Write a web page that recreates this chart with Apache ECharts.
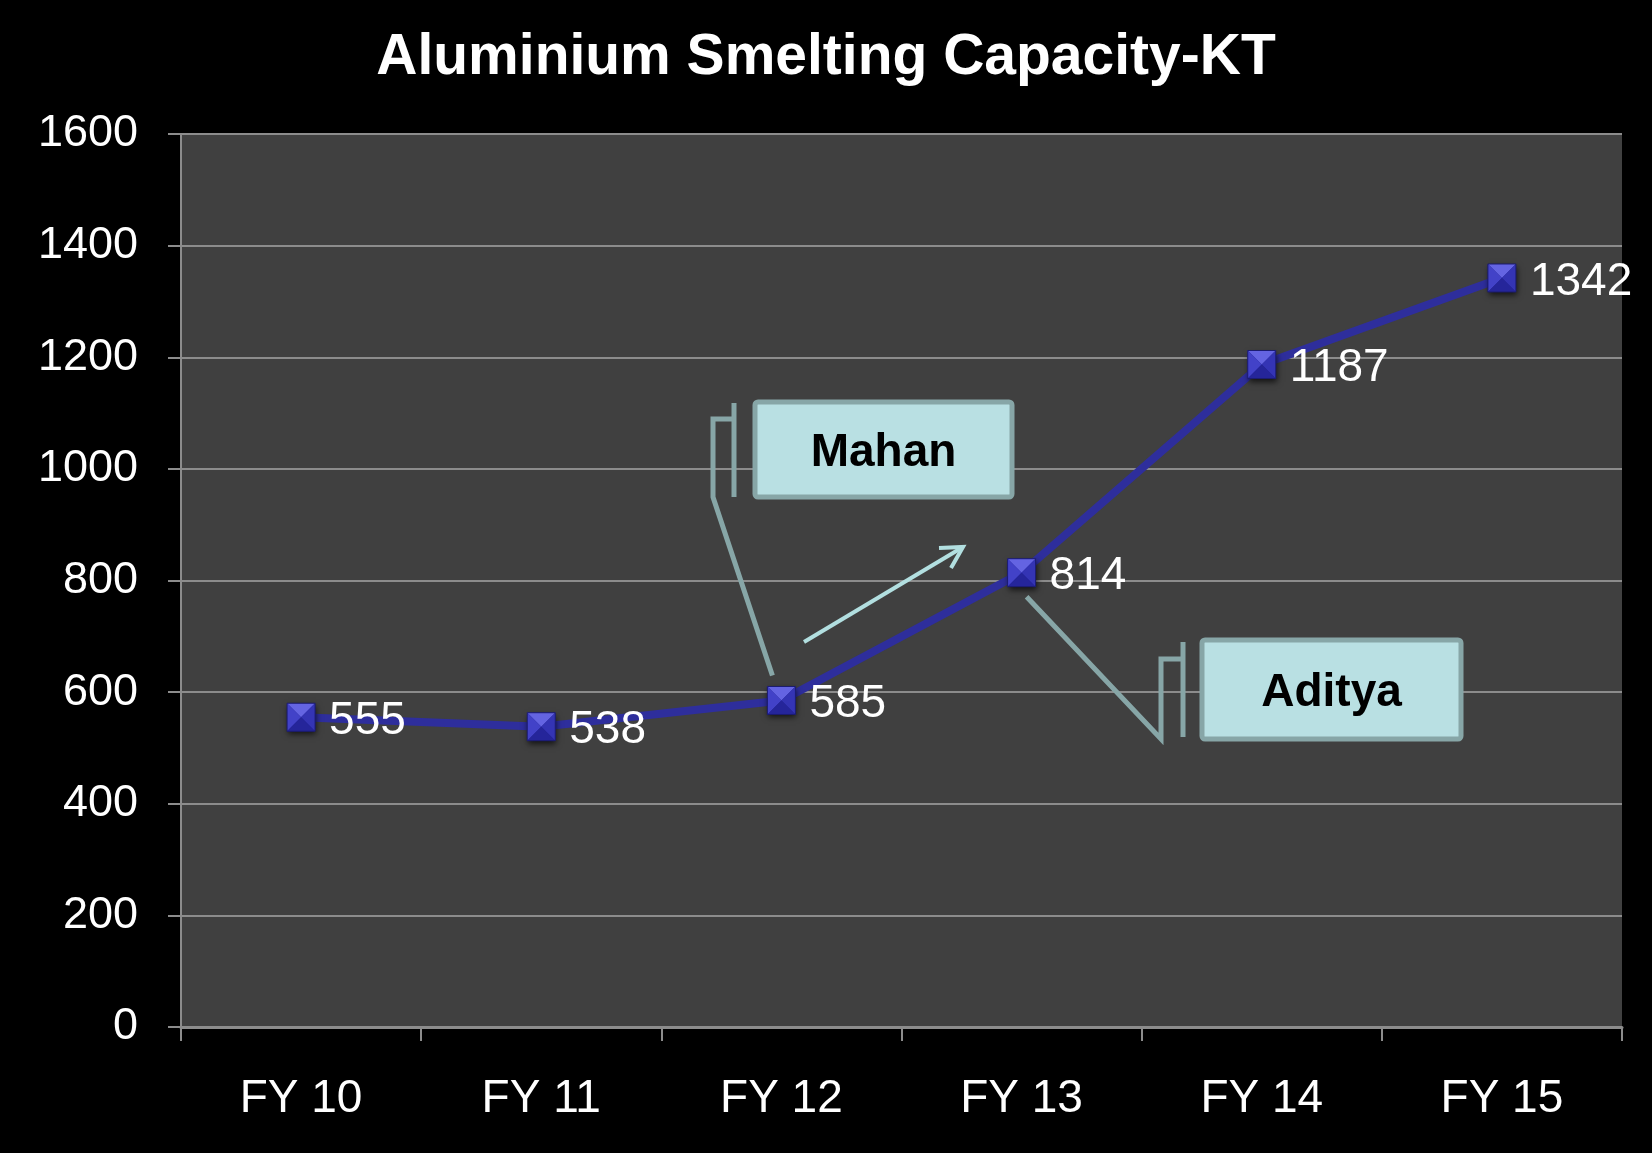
<!DOCTYPE html>
<html>
<head>
<meta charset="utf-8">
<script src="https://cdn.jsdelivr.net/npm/echarts@6/dist/echarts.min.js"></script>
<style>
  html, body { margin: 0; padding: 0; background: #000; }
  #container { width: 1652px; height: 1153px; }
</style>
</head>
<body>
<div id="container"></div>
<script>
var titleText = 'Aluminium Smelting Capacity-KT';
var years = ['FY 10', 'FY 11', 'FY 12', 'FY 13', 'FY 14', 'FY 15'];
var capacity = [555, 538, 585, 814, 1187, 1342];
var yTicks = {min: 0, max: 1600, step: 200};
var notes = [
  {name: 'Mahan', at: 2},
  {name: 'Aditya', at: 3}
];

var font = "'Liberation Sans', Arial, sans-serif";
var gray = '#8c8c8c';
var calloutFill = '#b9e0e3';
var calloutEdge = '#87a6a7';

// beveled square marker, like the pyramid markers in the slide
function drawMarker(params, api) {
  var p = api.coord([api.value(0), api.value(1)]);
  var x = p[0], y = p[1], s = 14;
  function tri(pts, color) {
    return {type: 'polygon', shape: {points: pts}, style: {fill: color}};
  }
  return {
    type: 'group',
    children: [
      {
        type: 'rect',
        shape: {x: x - s, y: y - s, width: 2 * s, height: 2 * s},
        style: {
          fill: '#20208a',
          shadowBlur: 6,
          shadowOffsetX: 1,
          shadowOffsetY: 3,
          shadowColor: 'rgba(0,0,0,0.7)'
        }
      },
      tri([[x - s, y - s], [x + s, y - s], [x, y]], '#6464e2'),
      tri([[x - s, y - s], [x - s, y + s], [x, y]], '#4242c8'),
      tri([[x + s, y - s], [x + s, y + s], [x, y]], '#3434b4'),
      tri([[x - s, y + s], [x + s, y + s], [x, y]], '#25259a'),
      {
        type: 'rect',
        shape: {x: x - s, y: y - s, width: 2 * s, height: 2 * s},
        style: {fill: null, stroke: '#1c1c70', lineWidth: 1}
      }
    ]
  };
}

var dom = document.getElementById('container');
var myChart = echarts.init(dom);

var option = {
  backgroundColor: '#000',
  animation: false,
  title: {
    text: titleText,
    left: 'center',
    top: 25,
    textStyle: {
      color: '#fff',
      fontSize: 57,
      fontWeight: 'bold',
      fontFamily: font
    }
  },
  grid: {
    left: 181,
    right: 30,
    top: 134,
    bottom: 126,
    show: true,
    backgroundColor: '#404040',
    borderWidth: 0
  },
  xAxis: {
    type: 'category',
    data: years,
    boundaryGap: true,
    axisLine: {lineStyle: {color: gray, width: 3}},
    axisTick: {show: true, length: 14, interval: 0, lineStyle: {color: gray, width: 2}},
    axisLabel: {
      color: '#fff',
      fontSize: 46,
      fontFamily: font,
      margin: 49
    }
  },
  yAxis: {
    type: 'value',
    min: yTicks.min,
    max: yTicks.max,
    interval: yTicks.step,
    axisLine: {show: true, lineStyle: {color: gray, width: 2}},
    axisTick: {show: true, length: 13, lineStyle: {color: gray, width: 2}},
    axisLabel: {
      color: '#fff',
      fontSize: 45,
      fontFamily: font,
      margin: 43,
      padding: [3, 0, 0, 0],
      formatter: function (v) { return String(v); }
    },
    splitLine: {lineStyle: {color: gray, width: 2}}
  },
  series: [
    {
      name: 'Capacity',
      type: 'line',
      data: capacity,
      symbol: 'rect',
      symbolSize: 28,
      z: 2,
      lineStyle: {color: '#2e2e9c', width: 8},
      itemStyle: {color: '#2e2e9c'},
      label: {
        show: true,
        position: 'right',
        distance: 14,
        offset: [0, 4],
        color: '#fff',
        fontSize: 46,
        fontFamily: font
      }
    },
    {
      name: 'Markers',
      type: 'custom',
      z: 3,
      renderItem: drawMarker,
      data: capacity.map(function (v, i) { return [i, v]; })
    }
  ]
};

myChart.setOption(option);

// callouts and arrow drawn on top as annotations
var tipMahan = myChart.convertToPixel({gridIndex: 0}, [notes[0].at, capacity[notes[0].at]]);
var tipAditya = myChart.convertToPixel({gridIndex: 0}, [notes[1].at, capacity[notes[1].at]]);
tipMahan = [tipMahan[0] - 9, tipMahan[1] - 25];
tipAditya = [tipAditya[0] + 5, tipAditya[1] + 24];

function callout(box, bar, leader, label) {
  return [
    {
      type: 'rect',
      z: 10,
      shape: {x: box[0], y: box[1], width: box[2], height: box[3], r: 3},
      style: {fill: calloutFill, stroke: calloutEdge, lineWidth: 5}
    },
    {
      type: 'text',
      z: 11,
      x: box[0] + box[2] / 2,
      y: box[1] + box[3] / 2 + 4,
      style: {
        text: label,
        fill: '#000',
        font: 'bold 46px ' + font,
        align: 'center',
        verticalAlign: 'middle'
      }
    },
    {
      type: 'line',
      z: 10,
      shape: {x1: bar[0], y1: bar[1], x2: bar[0], y2: bar[2]},
      style: {stroke: calloutEdge, lineWidth: 5}
    },
    {
      type: 'polyline',
      z: 10,
      shape: {points: leader},
      style: {stroke: calloutEdge, lineWidth: 5, fill: null, lineJoin: 'miter'}
    }
  ];
}

var graphics = []
  .concat(callout([755, 402, 257, 95], [734, 403, 497],
    [[734, 419], [713, 419], [713, 497], tipMahan], notes[0].name))
  .concat(callout([1202, 640, 259, 99], [1183, 642, 737],
    [[1183, 659], [1161, 659], [1161, 739], tipAditya], notes[1].name));

graphics.push({
  type: 'line',
  z: 10,
  shape: {x1: 804, y1: 642, x2: 963, y2: 547},
  style: {stroke: '#b2dfe0', lineWidth: 4}
});
graphics.push({
  type: 'polyline',
  z: 10,
  shape: {points: [[939, 548], [963, 547], [951, 568]]},
  style: {stroke: '#b2dfe0', lineWidth: 4, fill: null}
});

myChart.setOption({graphic: graphics});
</script>
</body>
</html>
